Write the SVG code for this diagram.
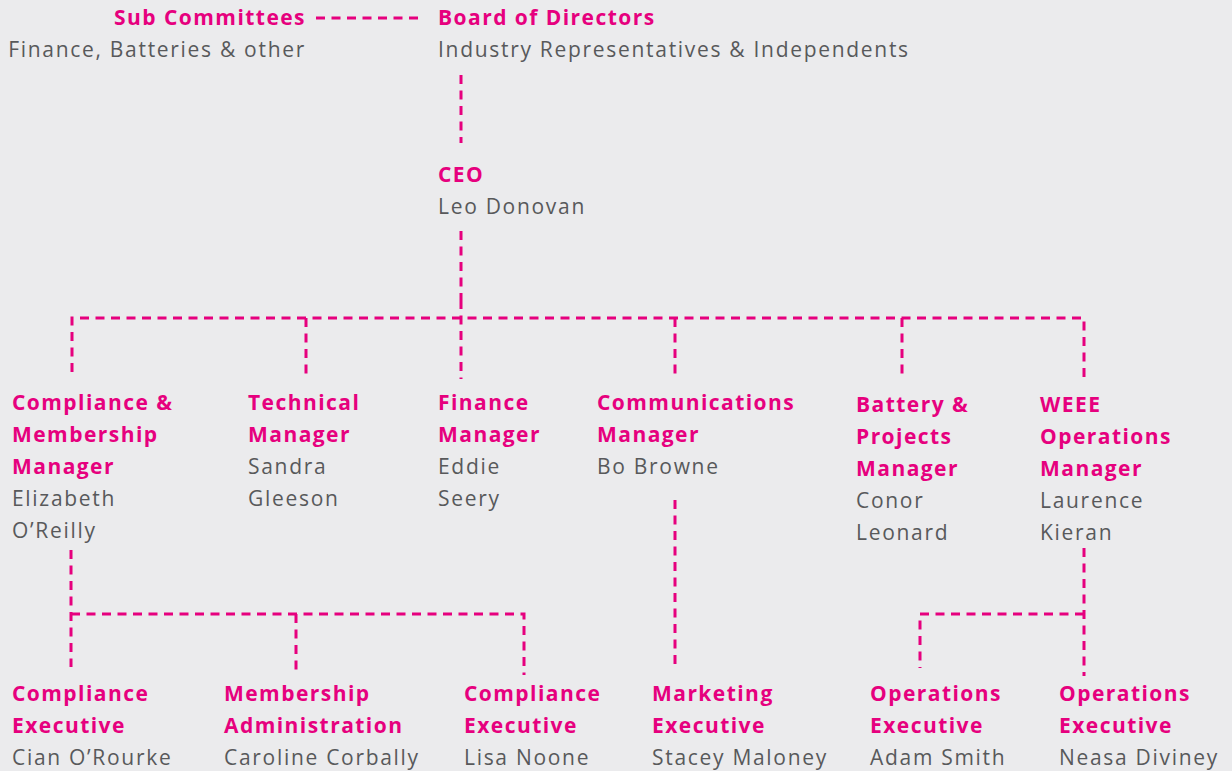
<svg xmlns="http://www.w3.org/2000/svg" width="1232" height="771" viewBox="0 0 1232 771">
<style>
.t{font-family:"Open Sans","Noto Sans","Liberation Sans",sans-serif;font-weight:700;font-size:21px;letter-spacing:1.45px;fill:#E6007E}
.n{font-family:"Open Sans","Noto Sans","Liberation Sans",sans-serif;font-weight:400;font-size:21px;letter-spacing:1.7px;fill:#58595B}
.c{fill:none;stroke:#E6007E;stroke-width:3;stroke-dasharray:9 6.5}
</style>
<rect width="1232" height="771" fill="#EBEBED"/>
<g id="connectors">
<path class="c" d="M316 18H424"/>
<path class="c" d="M461 75V143"/>
<path class="c" d="M461 231V300"/>
<path class="c" d="M72 372V318H1084V379"/>
<path class="c" d="M306 318V379"/>
<path class="c" d="M461 300V379"/>
<path class="c" d="M675 318V379"/>
<path class="c" d="M902 318V379"/>
<path class="c" d="M71 550V667"/>
<path class="c" d="M71 614H524V675"/>
<path class="c" d="M296 614V675"/>
<path class="c" d="M675 500V667"/>
<path class="c" d="M1084 548V676"/>
<path class="c" d="M1084 614H920V668"/>
</g>
<g id="subcommittees"><text class="t" x="306" y="25" text-anchor="end">Sub Committees</text><text class="n" x="306" y="57" text-anchor="end">Finance, Batteries &amp; other</text></g>
<g id="board"><text class="t" x="438" y="25">Board of Directors</text><text class="n" x="438" y="57">Industry Representatives &amp; Independents</text></g>
<g id="ceo"><text class="t" x="438" y="182">CEO</text><text class="n" x="438" y="214">Leo Donovan</text></g>
<g id="compliance-manager"><text class="t" x="12" y="410">Compliance &amp;</text><text class="t" x="12" y="442">Membership</text><text class="t" x="12" y="474">Manager</text><text class="n" x="12" y="506">Elizabeth</text><text class="n" x="12" y="538">O’Reilly</text></g>
<g id="technical-manager"><text class="t" x="248" y="410">Technical</text><text class="t" x="248" y="442">Manager</text><text class="n" x="248" y="474">Sandra</text><text class="n" x="248" y="506">Gleeson</text></g>
<g id="finance-manager"><text class="t" x="438" y="410">Finance</text><text class="t" x="438" y="442">Manager</text><text class="n" x="438" y="474">Eddie</text><text class="n" x="438" y="506">Seery</text></g>
<g id="communications-manager"><text class="t" x="597" y="410">Communications</text><text class="t" x="597" y="442">Manager</text><text class="n" x="597" y="474">Bo Browne</text></g>
<g id="battery-manager"><text class="t" x="856" y="412">Battery &amp;</text><text class="t" x="856" y="444">Projects</text><text class="t" x="856" y="476">Manager</text><text class="n" x="856" y="508">Conor</text><text class="n" x="856" y="540">Leonard</text></g>
<g id="weee-manager"><text class="t" x="1040" y="412">WEEE</text><text class="t" x="1040" y="444">Operations</text><text class="t" x="1040" y="476">Manager</text><text class="n" x="1040" y="508">Laurence</text><text class="n" x="1040" y="540">Kieran</text></g>
<g id="compliance-exec-1"><text class="t" x="12" y="701">Compliance</text><text class="t" x="12" y="733">Executive</text><text class="n" x="12" y="765">Cian O’Rourke</text></g>
<g id="membership-admin"><text class="t" x="224" y="701">Membership</text><text class="t" x="224" y="733">Administration</text><text class="n" x="224" y="765">Caroline Corbally</text></g>
<g id="compliance-exec-2"><text class="t" x="464" y="701">Compliance</text><text class="t" x="464" y="733">Executive</text><text class="n" x="464" y="765">Lisa Noone</text></g>
<g id="marketing-exec"><text class="t" x="652" y="701">Marketing</text><text class="t" x="652" y="733">Executive</text><text class="n" x="652" y="765">Stacey Maloney</text></g>
<g id="operations-exec-1"><text class="t" x="870" y="701">Operations</text><text class="t" x="870" y="733">Executive</text><text class="n" x="870" y="765">Adam Smith</text></g>
<g id="operations-exec-2"><text class="t" x="1059" y="701">Operations</text><text class="t" x="1059" y="733">Executive</text><text class="n" x="1059" y="765">Neasa Diviney</text></g>
</svg>
